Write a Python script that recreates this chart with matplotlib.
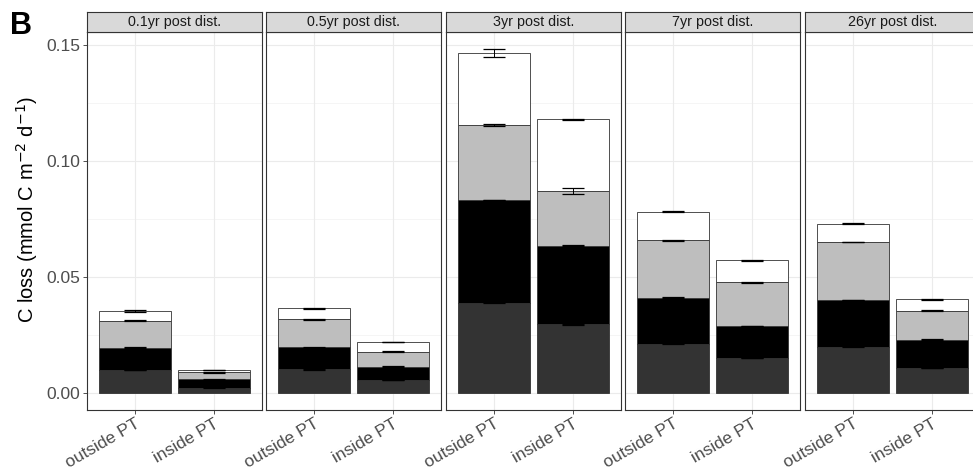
import matplotlib
matplotlib.use("Agg")
import matplotlib.pyplot as plt
import numpy as np

plt.rcParams['font.family'] = ['Liberation Sans', 'DejaVu Sans']

panels = ["0.1yr post dist.", "0.5yr post dist.", "3yr post dist.", "7yr post dist.", "26yr post dist."]
sites = ["outside PT", "inside PT"]

# segment values (bottom -> top), order: panel1 out, panel1 in, panel2 out, ...
seg_dark  = [0.0100, 0.0024, 0.0103, 0.0057, 0.0391, 0.0297, 0.0213, 0.0151, 0.0200, 0.0110]
seg_black = [0.0097, 0.0036, 0.0095, 0.0058, 0.0442, 0.0338, 0.0199, 0.0140, 0.0202, 0.0121]
seg_grey  = [0.0116, 0.0030, 0.0121, 0.0064, 0.0324, 0.0237, 0.0247, 0.0187, 0.0250, 0.0125]
seg_white = [0.0042, 0.0010, 0.0047, 0.0042, 0.0309, 0.0309, 0.0124, 0.0095, 0.0078, 0.0049]

err_dark  = [0.0001, 0.0001, 0.0001, 0.0001, 0.0003, 0.0002, 0.0002, 0.0001, 0.0002, 0.0001]
err_black = [0.0001, 0.0001, 0.0001, 0.0001, 0.0002, 0.0002, 0.0002, 0.0001, 0.0002, 0.0001]
err_grey  = [0.0002, 0.0001, 0.0002, 0.0002, 0.0003, 0.0011, 0.0002, 0.0002, 0.0002, 0.0001]
err_white = [0.0003, 0.0001, 0.0003, 0.0002, 0.0017, 0.0003, 0.0003, 0.0002, 0.0002, 0.0001]

segments = [seg_dark, seg_black, seg_grey, seg_white]
errors = [err_dark, err_black, err_grey, err_white]
fills = ["#333333", "#000000", "#BEBEBE", "#FFFFFF"]

yticks = [0.00, 0.05, 0.10, 0.15]
ytick_labels = ["0.00", "0.05", "0.10", "0.15"]

W, H = 973, 471
fig = plt.figure(figsize=(W / 100, H / 100), dpi=100)

panel_left = [87, 266, 446, 625, 805]
panel_w = 175
plot_top, plot_bot = 32, 410
strip_top = 12

ylim = (-0.0072, 0.1557)

for p, title in enumerate(panels):
    x0 = panel_left[p]
    ax = fig.add_axes([x0 / W, 1 - plot_bot / H, panel_w / W, (plot_bot - plot_top) / H])
    ax.set_xlim(0.4, 2.6)
    ax.set_ylim(*ylim)
    # grid
    for yv in yticks:
        ax.axhline(yv, color="#EBEBEB", lw=0.8, zorder=0)
    for yv in [0.025, 0.075, 0.125]:
        ax.axhline(yv, color="#F2F2F2", lw=0.5, zorder=0)
    for xv in [1, 2]:
        ax.axvline(xv, color="#EBEBEB", lw=0.8, zorder=0)
    for i in range(2):
        idx = p * 2 + i
        bottom = 0.0
        tops = []
        for s in range(4):
            v = segments[s][idx]
            ax.bar(i + 1, v, width=0.9, bottom=bottom, color=fills[s],
                   edgecolor="#333333", linewidth=0.6, zorder=2)
            bottom += v
            tops.append(bottom)
        for s in range(4):
            e = errors[s][idx]
            ax.errorbar(i + 1, tops[s], yerr=e, fmt='none', ecolor="black",
                        elinewidth=0.7, capsize=8, capthick=0.9, zorder=3)
    for sp in ax.spines.values():
        sp.set_color("#333333")
        sp.set_linewidth(0.8)
    ax.set_xticks([1, 2])
    ax.set_xticklabels(sites, rotation=30, ha="right", va="top",
                       rotation_mode="anchor", fontsize=12.5, color="#4D4D4D")
    ax.tick_params(axis="x", length=3, color="#333333", width=0.6, pad=1.5)
    ax.set_yticks(yticks)
    if p == 0:
        ax.set_yticklabels(ytick_labels, fontsize=12.5, color="#4D4D4D")
        ax.tick_params(axis="y", length=3, color="#333333", width=0.6, pad=2)
        ax.set_ylabel(r"C loss (mmol C m$^{-2}$ d$^{-1}$)", fontsize=14.5, color="black")
        ax.yaxis.set_label_coords(-0.27, 0.53)
    else:
        ax.set_yticklabels([])
        ax.tick_params(axis="y", length=0)
    # strip
    sax = fig.add_axes([x0 / W, 1 - plot_top / H, panel_w / W, (plot_top - strip_top) / H])
    sax.set_xticks([])
    sax.set_yticks([])
    sax.set_facecolor("#D9D9D9")
    for sp in sax.spines.values():
        sp.set_color("#333333")
        sp.set_linewidth(0.8)
    sax.text(0.5, 0.5, title, ha="center", va="center", fontsize=10.3, color="#1A1A1A",
             transform=sax.transAxes)

fig.text(10 / W, 1 - 26 / H, "B", fontsize=22, fontweight="bold", ha="left", va="center")

fig.savefig("out.png", dpi=100)
